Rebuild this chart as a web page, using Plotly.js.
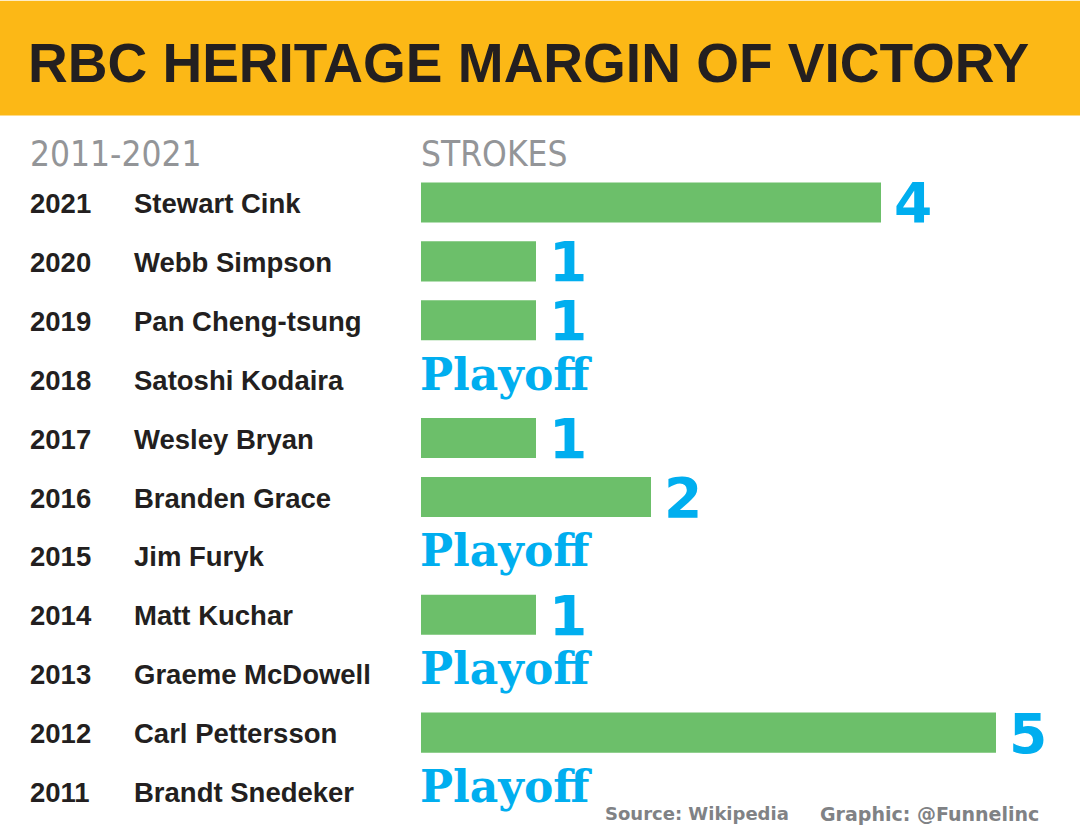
<!DOCTYPE html>
<html>
<head>
<meta charset="utf-8">
<script src="https://cdn.plot.ly/plotly-3.0.1.min.js"></script>
<style>html,body{margin:0;padding:0;background:#fff;}#chart{width:1080px;height:835px;}</style>
</head>
<body>
<div id="chart"></div>
<script>
// ---- data ----
const years = ["2021","2020","2019","2018","2017","2016","2015","2014","2013","2012","2011"];
const winners = ["Stewart Cink","Webb Simpson","Pan Cheng-tsung","Satoshi Kodaira","Wesley Bryan","Branden Grace","Jim Furyk","Matt Kuchar","Graeme McDowell","Carl Pettersson","Brandt Snedeker"];
const margins = [4,1,1,0,1,2,0,1,0,5,0]; // 0 = won in a playoff
const labels = margins.map(m => m === 0 ? "Playoff" : String(m));
const titleText = "RBC HERITAGE MARGIN OF VICTORY";
const periodText = "2011-2021";
const unitText = "STROKES";
const sourceText = "Source: Wikipedia";
const creditText = "Graphic: @Funnelinc";

// ---- layout geometry ----
const W = 1080, H = 835;
const M = {l: 421, r: 0, t: 172.5, b: 13.5};
const PW = W - M.l - M.r, PH = H - M.t - M.b;
const pxPerStroke = 115;
const px2x = X => (X - M.l) / PW;
const px2y = Y => (H - M.b - Y) / PH;

const dark = "#231F20", grey = "#939598", blue = "#00AEEF", green = "#6CBF6A", yellow = "#FCB816";
const narrow = "Liberation Sans Narrow, DejaVu Sans Condensed, sans-serif";
const sans = "Liberation Sans, Arial, sans-serif";

const bars = {
  type: "bar", orientation: "h",
  x: margins, y: years.map((_, i) => i),
  width: 0.68,
  marker: {color: green, line: {width: 0}},
  hoverinfo: "skip"
};

const annotations = [];
years.forEach((yr, i) => {
  annotations.push({xref: "paper", yref: "y", x: px2x(28), y: i, xanchor: "left", yanchor: "middle",
    text: yr, showarrow: false, font: {family: sans, size: 27.5, color: dark, weight: 700}, yshift: -1});
  annotations.push({xref: "paper", yref: "y", x: px2x(132), y: i, xanchor: "left", yanchor: "middle",
    text: winners[i], showarrow: false, font: {family: sans, size: 27.5, color: dark, weight: 700}, yshift: -1});
  const isPlayoff = margins[i] === 0;
  annotations.push({xref: "x", yref: "y", x: margins[i], y: i, xanchor: "left", yanchor: "middle",
    text: labels[i], showarrow: false, xshift: isPlayoff ? -3 : 11, yshift: isPlayoff ? 5 : -1,
    font: {family: isPlayoff ? "DejaVu Serif, serif" : "DejaVu Sans, sans-serif",
           size: isPlayoff ? 44 : 55, color: blue, weight: 700}});
});
annotations.push({xref: "paper", yref: "paper", x: px2x(28), y: px2y(153), xanchor: "left", yanchor: "middle",
  text: periodText, showarrow: false, font: {family: narrow, size: 35, color: grey}});
annotations.push({xref: "paper", yref: "paper", x: px2x(419), y: px2y(153), xanchor: "left", yanchor: "middle",
  text: unitText, showarrow: false, font: {family: narrow, size: 35, color: grey}});
annotations.push({xref: "paper", yref: "paper", x: px2x(603), y: px2y(814), xanchor: "left", yanchor: "middle",
  text: sourceText, showarrow: false, font: {family: "DejaVu Sans, sans-serif", size: 18, color: "#808285", weight: 700}});
annotations.push({xref: "paper", yref: "paper", x: px2x(818), y: px2y(814), xanchor: "left", yanchor: "middle",
  text: creditText, showarrow: false, font: {family: "DejaVu Sans, sans-serif", size: 19, color: "#808285", weight: 700}});

const layout = {
  width: W, height: H,
  margin: M,
  paper_bgcolor: "#ffffff", plot_bgcolor: "rgba(0,0,0,0)",
  showlegend: false,
  title: {text: titleText, xref: "container", yref: "container", x: 28 / W, xanchor: "left",
    y: 1 - 63 / H, yanchor: "middle",
    font: {family: sans, size: 55, color: dark, weight: 700}},
  xaxis: {range: [0, PW / pxPerStroke], visible: false, fixedrange: true},
  yaxis: {range: [years.length - 0.5, -0.5], visible: false, fixedrange: true},
  shapes: [{type: "rect", xref: "paper", yref: "paper", x0: px2x(0), x1: px2x(W), y0: px2y(115), y1: px2y(0),
    fillcolor: yellow, line: {width: 0}, layer: "below"}],
  annotations: annotations
};

Plotly.newPlot("chart", [bars], layout, {displayModeBar: false, staticPlot: true});
</script>
</body>
</html>
